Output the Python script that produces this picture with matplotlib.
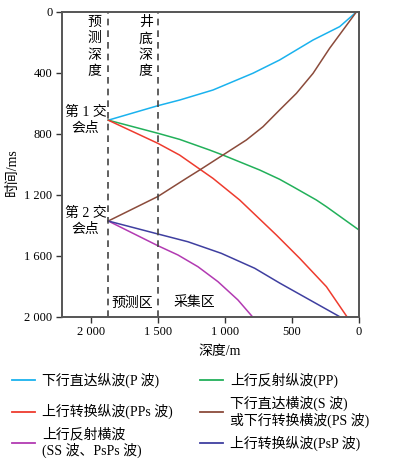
import numpy as np
import matplotlib.pyplot as plt
from matplotlib.lines import Line2D

plt.rcParams['font.family'] = ['Liberation Serif', 'Noto Sans CJK SC']

# dati: profondita (m) e tempo (ms)
p_d = [20, 144, 343, 592, 791, 1089, 1338, 1500, 1870]
p_t = [0, 96, 184, 315, 402, 512, 578, 615, 710]

pp_d = [1870, 1500, 1338, 1114, 1015, 741, 592, 492, 318, 243, 0]
pp_t = [710, 796, 836, 906, 939, 1037, 1098, 1147, 1234, 1278, 1431]

pps_d = [1870, 1500, 1338, 1089, 890, 616, 442, 243, 90]
pps_t = [710, 862, 939, 1092, 1234, 1464, 1617, 1803, 2000]

s_d = [20, 219, 343, 467, 592, 716, 840, 1015, 1188, 1288, 1500, 1870]
s_t = [0, 238, 403, 534, 643, 753, 840, 939, 1037, 1092, 1211, 1372]

ss_d = [1870, 1500, 1350, 1201, 1052, 903, 795]
ss_t = [1372, 1534, 1595, 1672, 1770, 1890, 2000]

psp_d = [1870, 1500, 1276, 1027, 778, 592, 144]
psp_t = [1372, 1457, 1508, 1584, 1682, 1779, 2000]

pred_depth = 1870  # profondita prevista
well_depth = 1500  # fondo pozzo

xticks = [2000, 1500, 1000, 500, 0]
xticklabels = ['2 000', '1 500', '1 000', '500', '0']
yticks = [0, 400, 800, 1200, 1600, 2000]
yticklabels = ['0', '400', '800', '1 200', '1 600', '2 000']

nomi = ['下行直达纵波(P 波)', '上行反射纵波(PP)',
        '上行转换纵波(PPs 波)', '下行直达横波(S 波)\n或下行转换横波(PS 波)',
        '上行反射横波\n(SS 波、PsPs 波)', '上行转换纵波(PsP 波)']
colori = ['#1ab2ee', '#22b05a', '#ee3b2e', '#8b4b3b', '#b23ab2', '#3f3fa0']
serie = [(p_d, p_t), (pp_d, pp_t), (pps_d, pps_t), (s_d, s_t), (ss_d, ss_t), (psp_d, psp_t)]

W, H = 396, 468
fig = plt.figure(figsize=(W/100, H/100), dpi=100)
ax = fig.add_axes([62/W, 1-316.7/H, 297/W, 304.7/H])

for (d, t), c in zip(serie, colori):
    ax.plot(d, t, color=c, lw=1.1)

ax.axvline(pred_depth, color='#444444', ls=(0, (4, 3)), lw=1.2)
ax.axvline(well_depth, color='#444444', ls=(0, (4, 3)), lw=1.2)

ax.set_xlim(2215, 0)
ax.set_ylim(2000, 0)
ax.set_xticks(xticks)
ax.set_xticklabels(xticklabels, fontsize=9)
ax.set_yticks(yticks)
ax.set_yticklabels(yticklabels, fontsize=9)
ax.tick_params(direction='out', length=4, width=1, color='#333333', pad=3)
for s in ax.spines.values():
    s.set_color('#555555')
    s.set_linewidth(1.4)

# testi
ax.text(1972, 25, '预\n测\n深\n度', fontsize=10, ha='center', va='top', linespacing=1.35)
ax.text(1591, 25, '井\n底\n深\n度', fontsize=10, ha='center', va='top', linespacing=1.35)
ax.text(2040, 710, '第 1 交\n会点', fontsize=10, ha='center', va='center', linespacing=1.3)
ax.text(2040, 1372, '第 2 交\n会点', fontsize=10, ha='center', va='center', linespacing=1.3)
ax.text(1692, 1910, '预测区', fontsize=10, ha='center', va='center')
ax.text(1225, 1910, '采集区', fontsize=10, ha='center', va='center')

fig.text(12/W, 1-172/H, '时间/ms', fontsize=10, rotation=90, ha='center', va='center')
fig.text(220/W, 1-352/H, '深度/m', fontsize=10, ha='center', va='center')

# legenda fatta a mano
pos = [(12, 380), (200, 380), (12, 411.5), (200, 411.5), (12, 443), (200, 443)]
for (x0, y0), c, n in zip(pos, colori, nomi):
    fig.add_artist(Line2D([x0/W, (x0+23)/W], [1-y0/H, 1-y0/H], color=c, lw=1.3))
    fig.text((x0+30)/W, 1-y0/H, n, fontsize=10, ha='left', va='center', linespacing=1.15)

fig.savefig('out.png', dpi=100)
